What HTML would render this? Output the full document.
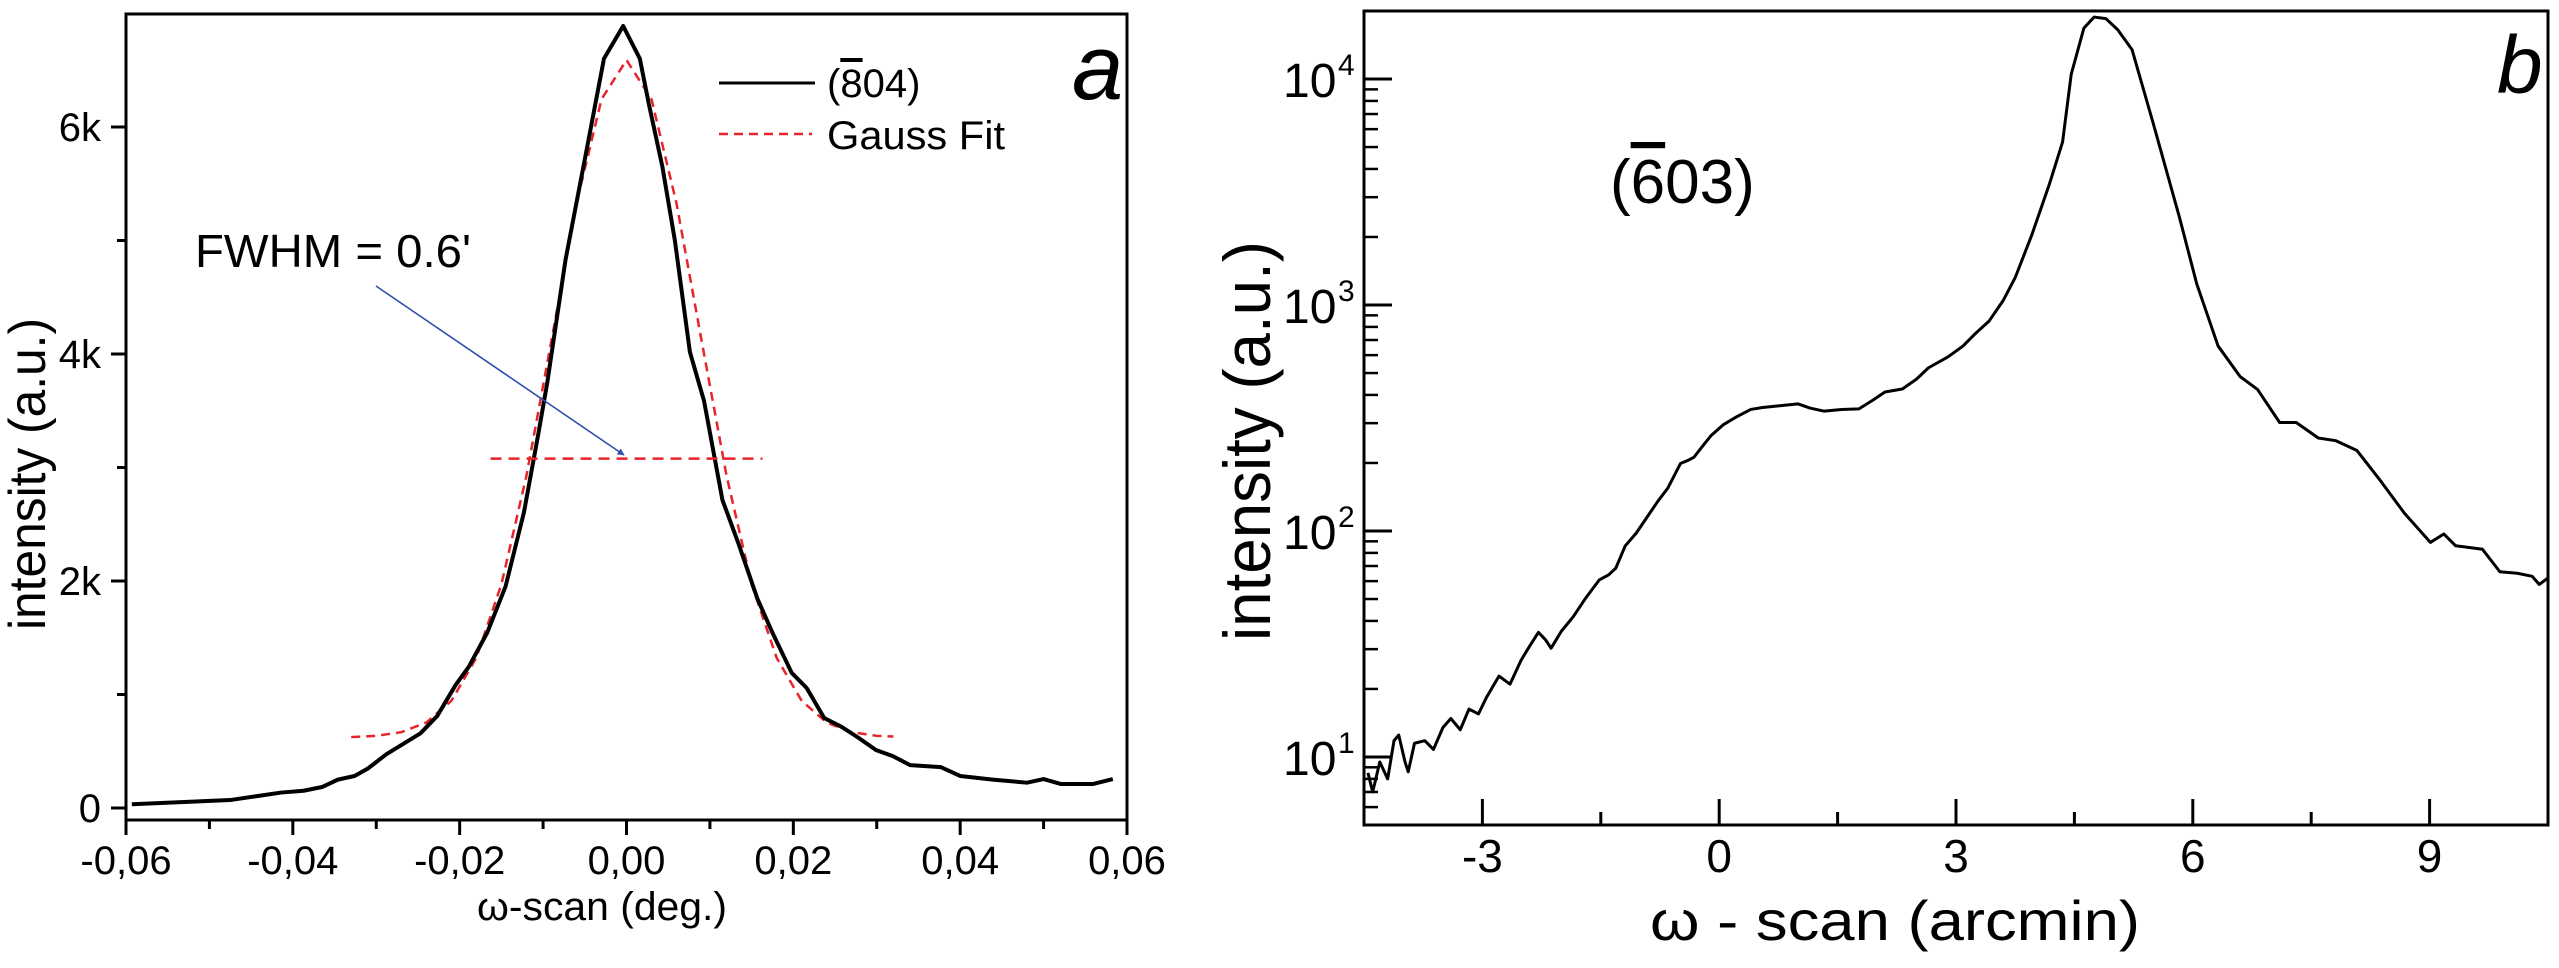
<!DOCTYPE html>
<html><head><meta charset="utf-8">
<style>
html,body{margin:0;padding:0;background:#fff;}
svg{display:block;font-family:"Liberation Sans",Arial,sans-serif;}
</style></head>
<body>
<svg id="fig" width="2559" height="968" viewBox="0 0 2559 968" xmlns="http://www.w3.org/2000/svg">
  <defs>
    <marker id="ah" viewBox="0 0 10 10" refX="9" refY="5" markerWidth="9" markerHeight="7" orient="auto" markerUnits="userSpaceOnUse">
      <path d="M0,0 L10,5 L0,10 z" fill="#2f4fb0"/>
    </marker>
  </defs>
  <g id="pa"></g>
  <g id="pb"></g>
</svg>
<script>
// ---------- Panel a data ----------
const aX = [-0.0593,-0.0475,-0.0414,-0.0387,-0.0365,-0.0346,-0.0326,-0.031,-0.0288,-0.0247,-0.0227,-0.0205,-0.0189,-0.0167,-0.0145,-0.0123,-0.0106,-0.0095,-0.0073,-0.0046,-0.0027,-0.0004,0.0016,0.0027,0.0043,0.0058,0.0076,0.0093,0.0115,0.0134,0.0157,0.0175,0.0198,0.0216,0.0237,0.0258,0.0278,0.0299,0.0319,0.034,0.0377,0.04,0.0439,0.048,0.05,0.0521,0.0559,0.0583];
const aY = [33,70,136,152,185,250,282,348,473,658,810,1082,1245,1544,1952,2603,3284,3747,4834,5868,6602,6890,6602,6195,5651,5000,4018,3585,2714,2334,1843,1544,1191,1057,793,714,619,511,458,378,360,282,250,223,255,211,211,255];
const fitX = [-0.033,-0.030,-0.027,-0.024,-0.021,-0.018,-0.015,-0.012,-0.009,-0.006,-0.003,0,0.003,0.006,0.009,0.012,0.015,0.018,0.021,0.024,0.027,0.030,0.032];
const fitY = [625,636,668,753,944,1323,1970,2925,4118,5325,6244,6590,6244,5325,4118,2925,1970,1323,944,753,668,636,630];
const aXTicks = [-0.06,-0.04,-0.02,0,0.02,0.04,0.06];
const aXTickLabels = ["-0,06","-0,04","-0,02","0,00","0,02","0,04","0,06"];
const aXMinor = [-0.05,-0.03,-0.01,0.01,0.03,0.05];
const aYTicks = [0,2000,4000,6000];
const aYTickLabels = ["0","2k","4k","6k"];
const aYMinor = [1000,3000,5000];
const fwhmLevel = [3078];
const fwhmRange = [-0.0145,0.0145];

// ---------- Panel b data ----------
const bX = [-4.45,-4.39,-4.3,-4.2,-4.12,-4.06,-3.98,-3.94,-3.86,-3.73,-3.62,-3.5,-3.4,-3.28,-3.17,-3.05,-2.95,-2.79,-2.65,-2.51,-2.4,-2.29,-2.2,-2.13,-2.0,-1.85,-1.7,-1.52,-1.4,-1.31,-1.19,-1.05,-0.93,-0.78,-0.65,-0.49,-0.4,-0.32,-0.2,-0.1,0.05,0.22,0.4,0.55,0.75,1.0,1.15,1.33,1.55,1.77,1.95,2.1,2.32,2.5,2.65,2.9,3.09,3.25,3.42,3.6,3.75,3.96,4.18,4.35,4.46,4.62,4.75,4.9,5.05,5.23,5.5,5.83,6.05,6.32,6.6,6.82,7.1,7.31,7.59,7.81,8.08,8.36,8.68,9.01,9.18,9.33,9.67,9.89,10.11,10.3,10.39,10.5];
const bY = [8.5,7.0,9.5,8.0,11.8,12.5,9.5,8.6,11.5,11.8,10.8,13.5,14.8,13.2,16.3,15.5,18.3,22.8,21,26.8,31,35.6,33,30.3,36,41.7,50,60.7,64,68.5,86,98,113,135,155,199,205,212,240,265,295,320,345,352,358,365,350,339,345,347,380,412,425,470,527,590,659,750,850,1050,1322,2040,3400,5260,10500,16800,18800,18500,16500,13500,6340,2450,1240,659,482,423,302,302,258,251,227,170,120,89,97,86,83,66,65,63,58,62];
const bXTicks = [-3,0,3,6,9];
const bXTickLabels = ["-3","0","3","6","9"];
const bXMinor = [-1.5,1.5,4.5,7.5];
const bYDecades = [1,2,3,4];
const bYTickBase = ["10","10","10","10"];
const bYTickExp = ["1","2","3","4"];

const NS = "http://www.w3.org/2000/svg";
function mk(parent, tag, attrs, txt){
  const e = document.createElementNS(NS, tag);
  for (const k in attrs) e.setAttribute(k, attrs[k]);
  if (txt !== undefined) e.textContent = txt;
  parent.appendChild(e);
  return e;
}

// ===== Panel a =====
const pa = document.getElementById('pa');
const A = {l:126, r:1127, t:14, b:820, xmin:-0.06, xmax:0.06, y0px:808, perK:113.5};
function ax(v){ return A.l + (v - A.xmin)/(A.xmax - A.xmin)*(A.r - A.l); }
function ay(v){ return A.y0px - v/1000*A.perK; }

let e, s;
e = mk(pa,'rect',{x:A.l,y:A.t,width:A.r-A.l,height:A.b-A.t,fill:'none',stroke:'#000','stroke-width':3});



aXTicks.forEach((v,i)=>{
  const t = mk(pa,'line',{x1:ax(v),x2:ax(v),y1:A.b,y2:A.b+15,stroke:'#000','stroke-width':3});
  
  
  const l = mk(pa,'text',{x:ax(v),y:874,'text-anchor':'middle','font-size':40},aXTickLabels[i]);
  
  
});
aXMinor.forEach(v=>{
  const t = mk(pa,'line',{x1:ax(v),x2:ax(v),y1:A.b,y2:A.b+9,stroke:'#000','stroke-width':3});
  
  
});
aYTicks.forEach((v,i)=>{
  const t = mk(pa,'line',{x1:A.l-15,x2:A.l,y1:ay(v),y2:ay(v),stroke:'#000','stroke-width':3});
  
  
  const l = mk(pa,'text',{x:101,y:ay(v)+14,'text-anchor':'end','font-size':40},aYTickLabels[i]);
  
  
});
aYMinor.forEach(v=>{
  const t = mk(pa,'line',{x1:A.l-9,x2:A.l,y1:ay(v),y2:ay(v),stroke:'#000','stroke-width':3});
  
  
});

e = mk(pa,'polyline',{points:fitX.map((v,i)=>ax(v)+','+ay(fitY[i])).join(' '),fill:'none',stroke:'#e8242a','stroke-width':2.5,'stroke-dasharray':'9,6'});


e = mk(pa,'polyline',{points:aX.map((v,i)=>ax(v)+','+ay(aY[i])).join(' '),fill:'none',stroke:'#000','stroke-width':4,'stroke-linejoin':'round'});


e = mk(pa,'line',{x1:ax(fwhmRange[0])-15,x2:ax(fwhmRange[1])+15,y1:ay(fwhmLevel[0]),y2:ay(fwhmLevel[0]),stroke:'#e8242a','stroke-width':2.5,'stroke-dasharray':'11,7'});


e = mk(pa,'line',{x1:376,y1:286,x2:624,y2:455,stroke:'#2f4fb0','stroke-width':1.6,'marker-end':'url(#ah)'});


e = mk(pa,'text',{x:195,y:267,'font-size':46,textLength:276,lengthAdjust:'spacingAndGlyphs'},"FWHM = 0.6'");



// legend
e = mk(pa,'line',{x1:719,x2:815,y1:83,y2:83,stroke:'#000','stroke-width':3});


e = mk(pa,'text',{x:827,y:97,'font-size':40});


e.appendChild(document.createTextNode('('));
s = mk(e,'tspan',{style:'text-decoration:overline'},'8');
e.appendChild(document.createTextNode('04)'));
e = mk(pa,'line',{x1:719,x2:812,y1:134,y2:134,stroke:'#e8242a','stroke-width':2.5,'stroke-dasharray':'9,6'});


e = mk(pa,'text',{x:827,y:149,'font-size':40,textLength:178,lengthAdjust:'spacingAndGlyphs'},"Gauss Fit");


e = mk(pa,'text',{x:1072,y:99,'font-size':92,'font-style':'italic'},"a");


e = mk(pa,'text',{x:477,y:920,'font-size':40,textLength:250,lengthAdjust:'spacingAndGlyphs'},"\u03c9-scan (deg.)");


e = mk(pa,'text',{x:0,y:0,'font-size':52,'text-anchor':'middle',textLength:312,lengthAdjust:'spacingAndGlyphs',transform:'translate(45,474) rotate(-90)'},"intensity (a.u.)");



// ===== Panel b =====
const pb = document.getElementById('pb');
const B = {l:1364, r:2548, t:11, b:825, xmin:-4.5, xmax:10.5, ymin:5, ymax:20000};
function bx(v){ return B.l + (v - B.xmin)/(B.xmax - B.xmin)*(B.r - B.l); }
function by(v){ return B.b - (Math.log10(v) - Math.log10(B.ymin))/(Math.log10(B.ymax)-Math.log10(B.ymin))*(B.b - B.t); }

e = mk(pb,'rect',{x:B.l,y:B.t,width:B.r-B.l,height:B.b-B.t,fill:'none',stroke:'#000','stroke-width':3});


bXTicks.forEach((v,i)=>{
  const t = mk(pb,'line',{x1:bx(v),x2:bx(v),y1:B.b,y2:B.b-26,stroke:'#000','stroke-width':3});
  
  
  const l = mk(pb,'text',{x:bx(v),y:872,'text-anchor':'middle','font-size':46},bXTickLabels[i]);
  
  
});
bXMinor.forEach(v=>{
  const t = mk(pb,'line',{x1:bx(v),x2:bx(v),y1:B.b,y2:B.b-13,stroke:'#000','stroke-width':3});
  
  
});
bYDecades.forEach((d,i)=>{
  const v = Math.pow(10,d);
  const t = mk(pb,'line',{x1:B.l,x2:B.l+28,y1:by(v),y2:by(v),stroke:'#000','stroke-width':3});
  
  
  const l = mk(pb,'text',{x:1283,y:by(v)+18,'font-size':48},bYTickBase[i]);
  
  
  const sx = mk(pb,'text',{x:1338,y:by(v)-4,'font-size':30},bYTickExp[i]);
  
  
});
for (let d=0; d<=4; d++){
  for (let m=2; m<=9; m++){
    const v = m*Math.pow(10,d);
    if (v < B.ymin || v > B.ymax) continue;
    const t = mk(pb,'line',{x1:B.l,x2:B.l+14,y1:by(v),y2:by(v),stroke:'#000','stroke-width':2.5});
    
    
  }
}
e = mk(pb,'polyline',{points:bX.map((v,i)=>bx(v)+','+by(bY[i])).join(' '),fill:'none',stroke:'#000','stroke-width':3,'stroke-linejoin':'round'});



e = mk(pb,'text',{x:1610,y:203,'font-size':62});


e.appendChild(document.createTextNode('('));
s = mk(e,'tspan',{style:'text-decoration:overline'},'6');
e.appendChild(document.createTextNode('03)'));
e = mk(pb,'text',{x:2497,y:93,'font-size':82,'font-style':'italic'},"b");


e = mk(pb,'text',{x:1650,y:940,'font-size':56,textLength:490,lengthAdjust:'spacingAndGlyphs'},"\u03c9 - scan (arcmin)");


e = mk(pb,'text',{x:0,y:0,'font-size':66,'text-anchor':'middle',textLength:400,lengthAdjust:'spacingAndGlyphs',transform:'translate(1270,441) rotate(-90)'},"intensity (a.u.)");


</script>
</body></html>
